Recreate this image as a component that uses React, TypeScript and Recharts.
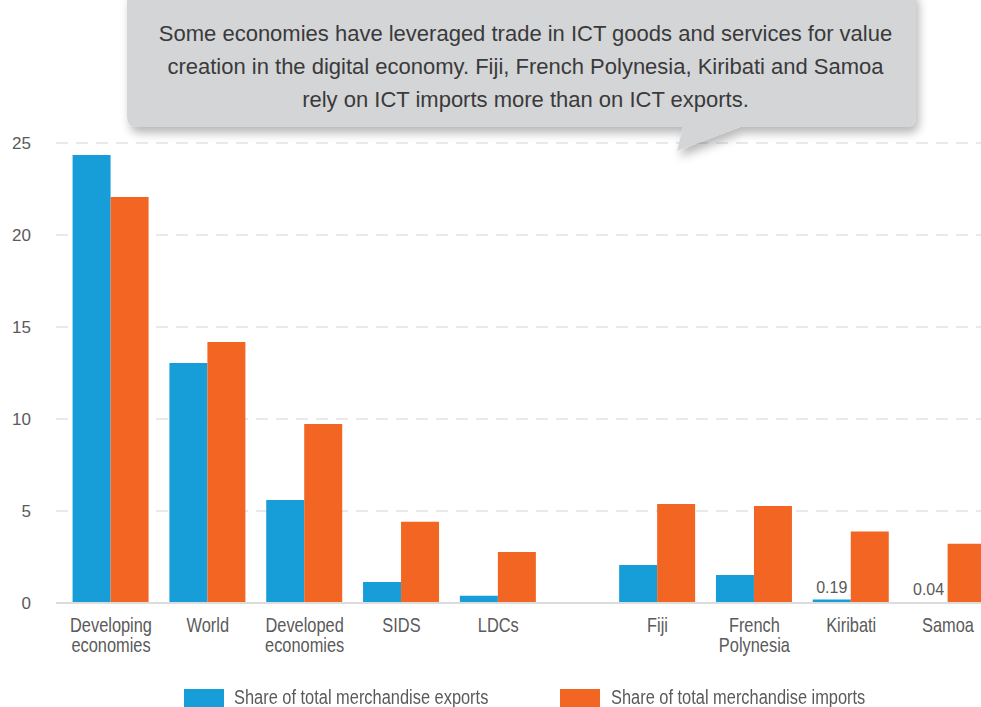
import React from 'react';
import { BarChart, Bar, XAxis, YAxis, CartesianGrid, LabelList } from 'recharts';

const categories = [
  'Developing\neconomies',
  'World',
  'Developed\neconomies',
  'SIDS',
  'LDCs',
  'Fiji',
  'French\nPolynesia',
  'Kiribati',
  'Samoa',
];
const exportsShare = [24.35, 13.05, 5.6, 1.14, 0.4, 2.07, 1.52, 0.19, 0.04];
const importsShare = [22.07, 14.18, 9.73, 4.42, 2.77, 5.38, 5.27, 3.88, 3.22];
const labelledCategories = ['Kiribati', 'Samoa'];
const yTicks = [0, 5, 10, 15, 20, 25];
const seriesNames = ['Share of total merchandise exports', 'Share of total merchandise imports'];
const calloutLines = [
  'Some economies have leveraged trade in ICT goods and services for value',
  'creation in the digital economy. Fiji, French Polynesia, Kiribati and Samoa',
  'rely on ICT imports more than on ICT exports.',
];

const BLUE = '#179ed9';
const ORANGE = '#f26522';
const TEXT = '#5a5a5a';
const REGULAR = '"Liberation Sans", Arial, sans-serif';
const NARROW_SCALE = 0.82;

// economies group, then a wider gap before the individual countries
const FIRST_COUNTRY_INDEX = 5;
const GROUP_GAP = 0.645;
const EDGE = 0.568;

const data = categories.map((c, i) => ({
  pos: i + (i >= FIRST_COUNTRY_INDEX ? GROUP_GAP : 0),
  name: c,
  exports: exportsShare[i],
  imports: importsShare[i],
  exportLabel: labelledCategories.includes(c) ? exportsShare[i] : null,
}));
const xTicks = data.map((d) => d.pos);
const xDomain = [-EDGE, data[data.length - 1].pos + EDGE];

const XTick = (props: any) => {
  const { x, y, payload } = props;
  const d = data.find((e) => Math.abs(e.pos - payload.value) < 1e-6);
  const lines = d ? d.name.split('\n') : [];
  return (
    <g transform={`translate(${x},${y}) scale(${NARROW_SCALE},1)`}>
      <text x={0} y={0} textAnchor="middle" fill={TEXT} fontFamily={REGULAR} fontSize={20}>
        {lines.map((l, i) => (
          <tspan key={i} x={0} y={29 + i * 20.5}>
            {l}
          </tspan>
        ))}
      </text>
    </g>
  );
};

const ExportLabel = (props: any) => {
  const { x, y, width, value } = props;
  if (value === null || value === undefined) return null;
  return (
    <text x={x + width / 2} y={y - 7} textAnchor="middle" fill={TEXT} fontFamily={REGULAR} fontSize={16}>
      {Number(value).toFixed(2)}
    </text>
  );
};

const legendText: React.CSSProperties = {
  position: 'absolute',
  top: 687,
  fontFamily: REGULAR,
  fontSize: 20,
  lineHeight: '20px',
  color: TEXT,
  whiteSpace: 'nowrap',
  transform: `scaleX(${NARROW_SCALE})`,
  transformOrigin: 'left top',
};

export default function App() {
  return (
    <div style={{ position: 'absolute', left: 0, top: 0, width: 981, height: 707, overflow: 'hidden', background: '#fff' }}>
      <BarChart
        width={1003}
        height={707}
        data={data}
        margin={{ top: 143, right: 0, bottom: 44, left: 0 }}
        barGap={0}
      >
        <CartesianGrid vertical={false} stroke="#e2e2e2" strokeWidth={1.5} strokeDasharray="12 8" />
        <XAxis
          type="number"
          dataKey="pos"
          domain={xDomain}
          ticks={xTicks}
          interval={0}
          height={60}
          tickSize={0}
          tickMargin={0}
          tickLine={false}
          axisLine={{ stroke: '#dcdcdc', strokeWidth: 2 }}
          tick={<XTick />}
          allowDataOverflow
        />
        <YAxis
          domain={[0, 25]}
          ticks={yTicks}
          width={56}
          tickSize={0}
          tickMargin={25}
          axisLine={false}
          tickLine={false}
          tick={{ fill: TEXT, fontFamily: REGULAR, fontSize: 17 }}
        />
        <Bar dataKey="exports" name={seriesNames[0]} fill={BLUE} barSize={38} isAnimationActive={false}>
          <LabelList dataKey="exportLabel" content={<ExportLabel />} />
        </Bar>
        <Bar dataKey="imports" name={seriesNames[1]} fill={ORANGE} barSize={38} isAnimationActive={false} />
      </BarChart>

      {/* callout */}
      <svg
        width={981}
        height={707}
        style={{ position: 'absolute', left: 0, top: 0, pointerEvents: 'none' }}
      >
        <defs>
          <filter id="sh" x="-10%" y="-30%" width="125%" height="170%">
            <feDropShadow dx="3" dy="6" stdDeviation="5" floodColor="#000" floodOpacity="0.28" />
          </filter>
        </defs>
        <path
          d="M137,-10 L906,-10 Q916,-10 916,0 L916,117 Q916,127 906,127 L740,127 L677,151 L683,127 L137,127 Q127,127 127,117 L127,0 Q127,-10 137,-10 Z"
          fill="#d4d5d7"
          filter="url(#sh)"
        />
        {calloutLines.map((l, i) => (
          <text
            key={i}
            x={525.5}
            y={41 + i * 33}
            textAnchor="middle"
            fill="#3a3a3a"
            fontFamily={REGULAR}
            fontSize={22}
          >
            {l}
          </text>
        ))}
      </svg>

      {/* legend */}
      <div style={{ position: 'absolute', left: 184, top: 689, width: 40, height: 20, background: BLUE }} />
      <div style={{ ...legendText, left: 234 }}>{seriesNames[0]}</div>
      <div style={{ position: 'absolute', left: 560, top: 689, width: 40, height: 20, background: ORANGE }} />
      <div style={{ ...legendText, left: 611 }}>{seriesNames[1]}</div>
    </div>
  );
}
